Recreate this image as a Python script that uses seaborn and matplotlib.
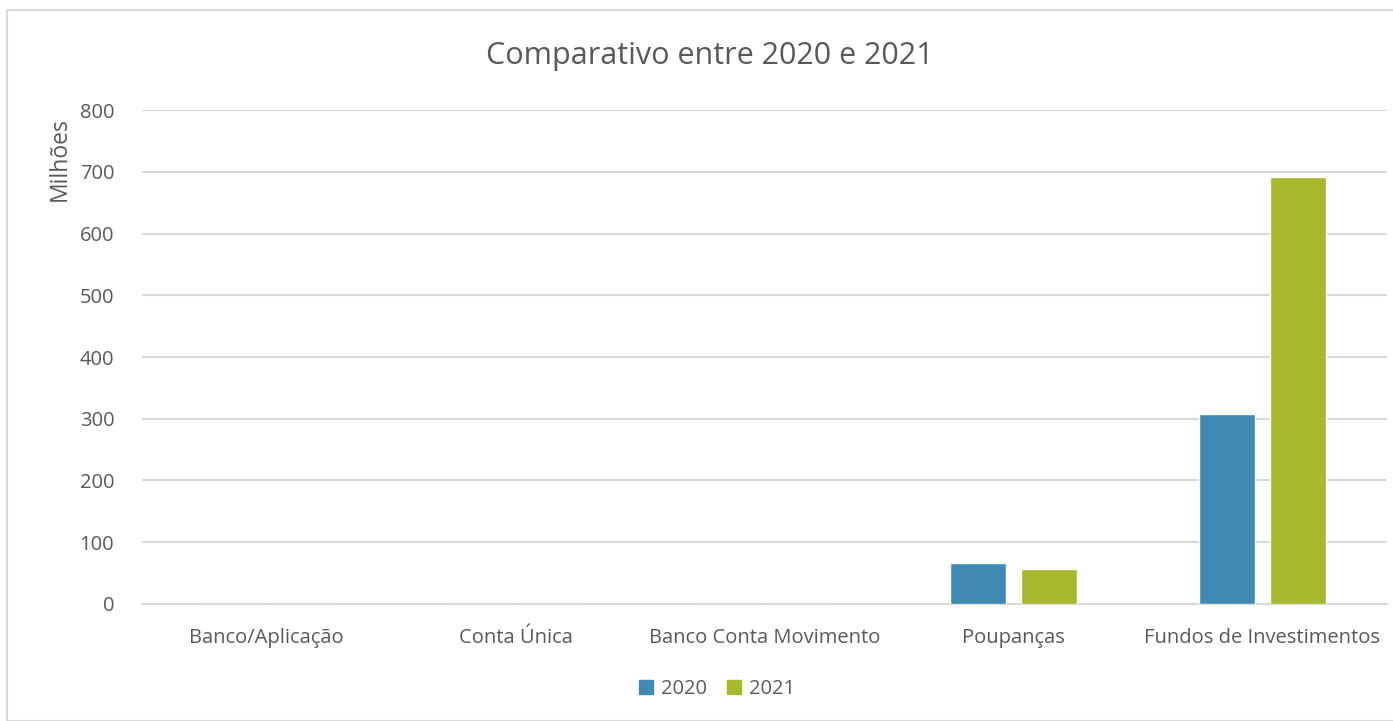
import pandas as pd
import numpy as np
import matplotlib.pyplot as plt
import seaborn as sns
from matplotlib.patches import Rectangle

categorias = ['Banco/Aplicação', 'Conta Única', 'Banco Conta Movimento', 'Poupanças', 'Fundos de Investimentos']
anos = ['2020', '2021']
valores_2020 = [0, 0, 0, 66, 308]
valores_2021 = [0, 0, 0, 57, 691]

df = pd.DataFrame({
    'categoria': categorias * 2,
    'ano': [anos[0]] * len(categorias) + [anos[1]] * len(categorias),
    'valor': valores_2020 + valores_2021,
})

cores = {'2020': '#3F89B3', '2021': '#A7B82A'}
cinza = '#595959'

sns.set_theme(style='white')
plt.rcParams['font.family'] = ['Open Sans', 'DejaVu Sans']

fig = plt.figure(figsize=(13.93, 7.21), dpi=100)
ax = fig.add_axes([142 / 1393, 0.1623, 1245 / 1393, 0.6851])

sns.barplot(data=df, x='categoria', y='valor', hue='ano', palette=cores, saturation=1,
            width=0.573, gap=0.218, ax=ax, legend=False, zorder=3)

ax.set_ylim(0, 800)
ax.set_xlim(-0.5, len(categorias) - 0.5)
ax.set_yticks(np.arange(0, 801, 100))
ax.yaxis.grid(True, color='#D9D9D9', lw=1.5, zorder=0)
ax.set_axisbelow(True)
for s in ['top', 'right', 'left']:
    ax.spines[s].set_visible(False)
ax.spines['bottom'].set_color('#D9D9D9')
ax.spines['bottom'].set_linewidth(1.5)
ax.tick_params(axis='both', length=0, colors=cinza, labelsize=14.5)
ax.tick_params(axis='y', pad=20)
ax.tick_params(axis='x', pad=17)
ax.set_xlabel('')
ax.set_ylabel('')

fig.text(60 / 1393, 1 - 159 / 721, 'Milhões', rotation=90, ha='center', va='center',
         fontsize=16.5, color=cinza)
fig.text(710 / 1393, 1 - 56 / 721, 'Comparativo entre 2020 e 2021', ha='center', va='center',
         fontsize=22, color=cinza)

handles = [Rectangle((0, 0), 1, 1, color=cores[a]) for a in anos]
ax.legend(handles, anos, loc='center', bbox_to_anchor=(0.462, -0.172), ncol=2, frameon=False,
          fontsize=14.5, labelcolor=cinza, handlelength=0.7, handleheight=0.7,
          handletextpad=0.4, columnspacing=1.0)

fig.patches.append(Rectangle((7 / 1393, 0), 1, 1 - 10 / 721, transform=fig.transFigure,
                             fill=False, edgecolor='#D9D9D9', lw=1.5))

fig.savefig('out.png', dpi=100)
